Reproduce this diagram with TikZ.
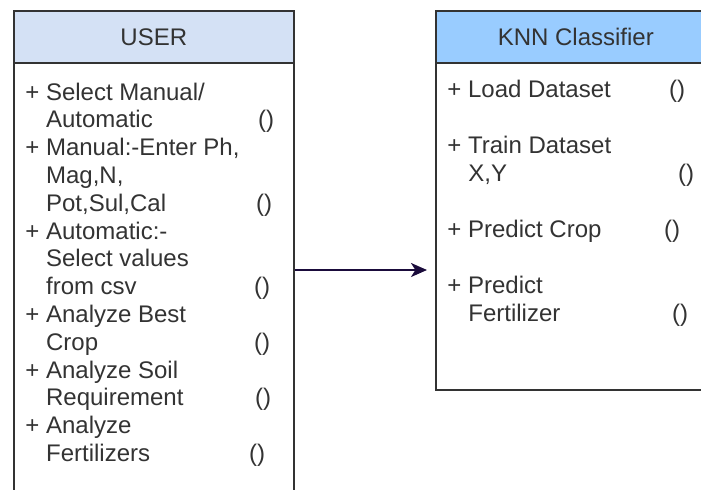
\documentclass[tikz,border=0pt]{standalone}
\usepackage{fontspec}
\setmainfont{Liberation Sans}
\usetikzlibrary{arrows.meta}
\definecolor{hdrA}{HTML}{D4E1F5}
\definecolor{hdrB}{HTML}{99CCFF}
\definecolor{txt}{HTML}{333333}
\definecolor{edge}{HTML}{333333}
\definecolor{arr}{HTML}{1A0B3B}
\begin{document}
\begin{tikzpicture}[x=0.5pt,y=-0.5pt,
  boxline/.style={draw=edge, line width=0.8pt, inner sep=0pt, anchor=north west},
  hdr/.style={boxline, minimum width=140pt, minimum height=26pt, text=txt, font=\fontsize{12}{14}\selectfont},
  item/.style={anchor=base west, inner sep=0pt, text=txt, font=\fontsize{12}{14}\selectfont},
  paren/.style={anchor=base, inner sep=0pt, text=txt, font=\fontsize{12}{14}\selectfont},
  conn/.style={draw=arr, line width=1pt, -{Stealth[length=8pt, width=7pt, inset=2.2pt]}, shorten >=4pt}
]
\useasboundingbox (0,0) rectangle (701,489);
\clip (0,0) rectangle (701,489);

% USER class
\node[boxline, fill=white, minimum width=140pt, minimum height=222pt] (userbody) at (13,62) {};
\node[hdr, fill=hdrA] (userhdr) at (13,10) {USER};

\node[item] (u0) at (25,100) {+ Select Manual/};
\node[item] (u1) at (45.7,127.8) {Automatic};
\node[paren] (p1) at (266,127.8) {()};
\node[item] (u2) at (25,155.6) {+ Manual:-Enter Ph,};
\node[item] (u3) at (45.7,183.4) {Mag,N,};
\node[item] (u4) at (45.7,211.2) {Pot,Sul,Cal};
\node[paren] (p4) at (264,211.2) {()};
\node[item] (u5) at (25,239) {+ Automatic:-};
\node[item] (u6) at (45.7,266.8) {Select values};
\node[item] (u7) at (45.7,294.6) {from csv};
\node[paren] (p7) at (262,294.6) {()};
\node[item] (u8) at (25,322.4) {+ Analyze Best};
\node[item] (u9) at (45.7,350.2) {Crop};
\node[paren] (p9) at (262,350.2) {()};
\node[item] (u10) at (25,378) {+ Analyze Soil};
\node[item] (u11) at (45.7,405.8) {Requirement};
\node[paren] (p11) at (263,405.8) {()};
\node[item] (u12) at (25,433.6) {+ Analyze};
\node[item] (u13) at (45.7,461.4) {Fertilizers};
\node[paren] (p13) at (257,461.4) {()};

% KNN Classifier class
\node[boxline, fill=white, minimum width=140pt, minimum height=163.5pt] (knnbody) at (435,62) {};
\node[hdr, fill=hdrB] (knnhdr) at (435,10) {KNN Classifier};

\node[item] (k0) at (447,97) {+ Load Dataset};
\node[paren] (q0) at (677,97) {()};
\node[item] (k1) at (447,153) {+ Train Dataset};
\node[item] (k2) at (468,181) {X,Y};
\node[paren] (q2) at (686,181) {()};
\node[item] (k3) at (447,237) {+ Predict Crop};
\node[paren] (q3) at (672,237) {()};
\node[item] (k4) at (447,293) {+ Predict};
\node[item] (k5) at (468,321) {Fertilizer};
\node[paren] (q5) at (680,321) {()};

% connector
\coordinate (ay) at (0,270);
\draw[conn] (userbody.east |- ay) -- (knnbody.west |- ay);
\end{tikzpicture}
\end{document}
